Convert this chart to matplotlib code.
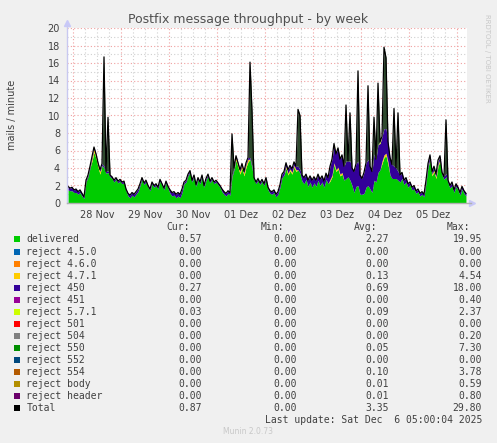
import numpy as np
import matplotlib
matplotlib.use('Agg')
import matplotlib.pyplot as plt
from matplotlib.patches import Rectangle

# hourly samples, first one starts Nov 27 21:00, last one ends Dec 6 05:00
delivered = [
    1.5, 1.4, 1.4, 1.2, 1.2, 1.0, 1.2, 0.8, 0.5, 2.4,
    3.0, 4.0, 4.8, 5.8, 5.1, 4.1, 3.3, 4.3, 4.0, 3.4,
    3.5, 3.0, 2.8, 2.4, 2.7, 2.3, 2.5, 2.2, 2.3, 1.4,
    0.8, 0.6, 0.9, 0.7, 1.0, 1.3, 2.0, 2.7, 2.1, 2.4,
    1.8, 1.4, 2.2, 1.8, 2.0, 1.6, 2.5, 2.0, 1.5, 2.3,
    1.7, 1.1, 0.8, 0.9, 0.6, 0.8, 0.6, 1.2, 2.2, 2.4,
    3.1, 3.5, 2.4, 3.0, 1.9, 2.7, 2.2, 3.0, 1.8, 2.6,
    3.1, 2.3, 2.7, 2.2, 2.4, 2.1, 1.8, 1.3, 1.0, 0.8,
    1.1, 0.9, 3.0, 3.8, 4.9, 4.1, 3.3, 4.0, 3.1, 4.1,
    4.7, 5.0, 4.0, 2.7, 2.2, 2.6, 2.1, 2.5, 2.0, 2.7,
    1.5, 1.1, 1.0, 1.2, 0.7, 1.0, 1.8, 2.9, 3.2, 4.0,
    3.2, 3.7, 3.3, 4.1, 3.6, 3.8, 3.4, 2.5, 2.2, 2.7,
    1.9, 2.4, 1.8, 2.3, 1.9, 2.6, 2.0, 2.4, 1.8, 2.7,
    2.2, 2.5, 3.0, 4.4, 3.6, 3.9, 3.1, 3.3, 2.6, 2.8,
    3.0, 2.6, 2.0, 1.2, 1.9, 2.0, 1.0, 1.0, 1.1, 1.8,
    2.0, 1.6, 1.2, 2.6, 2.4, 3.5, 3.8, 4.5, 5.2, 5.4,
    4.4, 3.2, 2.8, 2.8, 2.8, 2.6, 2.4, 2.8, 2.1, 2.4,
    1.8, 2.1, 1.5, 1.6, 1.1, 1.3, 0.8, 1.0, 0.7, 2.3,
    4.1, 4.9, 3.1, 3.6, 2.8, 4.2, 4.8, 3.2, 2.7, 3.0,
    2.3, 1.7, 2.0, 1.2, 1.9, 1.5, 0.9, 1.6, 1.1, 0.8,
]

reject_471 = [
    0, 0, 0, 0, 0, 0, 0, 0, 0, 0,
    0, 0, 0.3, 0.4, 0.3, 0.3, 0.3, 0, 0, 0,
    0, 0, 0, 0, 0, 0, 0, 0, 0, 0,
    0, 0, 0, 0, 0, 0, 0, 0, 0, 0,
    0, 0, 0, 0, 0, 0, 0, 0, 0, 0,
    0, 0, 0, 0, 0, 0, 0, 0, 0, 0,
    0, 0, 0, 0, 0, 0, 0, 0, 0, 0,
    0, 0, 0, 0, 0, 0, 0, 0, 0, 0,
    0, 0, 0, 0, 0.3, 0.3, 0.3, 0.3, 0.3, 0.3,
    0.3, 0, 0, 0, 0, 0, 0, 0, 0, 0,
    0, 0, 0, 0, 0, 0, 0, 0, 0, 0.2,
    0.2, 0.2, 0.2, 0.2, 0.2, 0, 0, 0, 0, 0,
    0, 0, 0, 0, 0, 0, 0, 0, 0, 0,
    0, 0.2, 0.2, 0.2, 0.2, 0.2, 0.2, 0.2, 0, 0,
    0, 0, 0, 0, 0, 0, 0, 0, 0, 0,
    0, 0, 0, 0, 0, 0, 0, 0.3, 0.3, 0.3,
    0.3, 0, 0, 0, 0, 0, 0, 0, 0, 0,
    0, 0, 0, 0, 0, 0, 0, 0, 0, 0,
    0, 0.2, 0.2, 0.2, 0.2, 0.2, 0.2, 0, 0, 0,
    0, 0, 0, 0, 0, 0, 0, 0, 0, 0,
]

reject_450 = [
    0.4, 0.3, 0.4, 0.3, 0.4, 0.3, 0.3, 0.3, 0.2, 0.2,
    0.2, 0.2, 0.2, 0.2, 0.2, 0.2, 0.2, 0.2, 0.2, 0.2,
    0.2, 0.2, 0.2, 0.2, 0.2, 0.2, 0.2, 0.2, 0.2, 0.2,
    0.3, 0.3, 0.3, 0.3, 0.3, 0.3, 0.2, 0.2, 0.2, 0.2,
    0.2, 0.2, 0.2, 0.2, 0.2, 0.2, 0.2, 0.2, 0.2, 0.2,
    0.2, 0.4, 0.4, 0.4, 0.4, 0.4, 0.4, 0.4, 0.2, 0.2,
    0.2, 0.2, 0.2, 0.2, 0.2, 0.2, 0.2, 0.2, 0.2, 0.2,
    0.2, 0.2, 0.2, 0.2, 0.2, 0.2, 0.2, 0.3, 0.3, 0.3,
    0.3, 0.3, 0.2, 0.2, 0.2, 0.2, 0.2, 0.2, 0.2, 0.2,
    0.2, 0.2, 0.2, 0.2, 0.2, 0.2, 0.2, 0.2, 0.2, 0.2,
    0.3, 0.3, 0.3, 0.3, 0.3, 0.3, 0.3, 0.4, 0.4, 0.4,
    0.4, 0.4, 0.4, 0.4, 0.4, 0.4, 0.4, 0.7, 0.7, 0.6,
    0.7, 0.7, 0.8, 0.7, 0.7, 0.7, 0.7, 0.7, 0.7, 0.7,
    0.7, 1.5, 1.8, 2.0, 1.8, 2.2, 1.7, 2.0, 1.6, 2.0,
    1.8, 2.2, 2.0, 2.4, 2.6, 2.8, 2.2, 1.8, 2.4, 2.8,
    3.0, 2.6, 2.4, 3.0, 2.6, 3.2, 3.0, 2.8, 3.0, 2.8,
    2.3, 2.0, 1.6, 1.4, 1.2, 1.0, 0.8, 0.7, 0.5, 0.5,
    0.4, 0.3, 0.3, 0.4, 0.3, 0.3, 0.3, 0.3, 0.3, 0.3,
    0.4, 0.4, 0.3, 0.4, 0.3, 0.4, 0.4, 0.3, 0.3, 0.4,
    0.3, 0.3, 0.4, 0.3, 0.3, 0.3, 0.3, 0.3, 0.3, 0.3,
]

reject_571 = [0] * 133 + [0.2] + [0] * 22 + [0.2] + [0] * 28 + [0.1] + [0] * 14

reject_550 = [
    0, 0, 0, 0, 0, 0, 0, 0, 0, 0,
    0, 0, 0, 0, 0, 0, 0, 0, 12.5, 0,
    6.1, 0, 0, 0, 0, 0, 0, 0, 0, 0,
    0, 0, 0, 0, 0, 0, 0, 0, 0, 0,
    0, 0, 0, 0, 0, 0, 0, 0, 0, 0,
    0, 0, 0, 0, 0, 0, 0, 0, 0, 0,
    0, 0, 0, 0, 0, 0, 0, 0, 0, 0,
    0, 0, 0, 0, 0, 0, 0, 0, 0, 0,
    0, 0, 4.7, 0, 0, 0, 0, 0, 0, 0,
    0, 10.9, 6.3, 0, 0, 0, 0, 0, 0, 0,
    0, 0, 0, 0, 0, 0, 0, 0, 0, 0,
    0, 0, 0, 0, 0, 6.5, 6.2, 0, 0, 0,
    0, 0, 0, 0, 0, 0, 0, 0, 0, 0,
    0, 0, 0, 0, 0, 0, 0, 0, 0, 6.4,
    0, 5.5, 0, 0, 0, 10.3, 0, 0, 0, 0,
    8.4, 0, 0, 4.2, 0, 7.0, 0, 0, 9.3, 8.1,
    0, 0, 0, 6.6, 0, 6.7, 0, 0, 0, 0,
    0, 0, 0, 0, 0, 0, 0, 0, 0, 0,
    0, 0, 0, 0, 0, 0, 0, 0, 0, 6.1,
    0, 0, 0, 0, 0, 0, 0, 0, 0, 0,
]

day_labels = ['28 Nov', '29 Nov', '30 Nov', '01 Dez', '02 Dez', '03 Dez', '04 Dez', '05 Dez']

legend_names = ['delivered', 'reject 4.5.0', 'reject 4.6.0', 'reject 4.7.1', 'reject 450',
                'reject 451', 'reject 5.7.1', 'reject 501', 'reject 504', 'reject 550',
                'reject 552', 'reject 554', 'reject body', 'reject header', 'Total']
legend_colors = ['#00CC00', '#0066B3', '#FF8000', '#FFCC00', '#330099',
                 '#990099', '#CCFF00', '#FF0000', '#808080', '#008F00',
                 '#00487D', '#B35A00', '#B38F00', '#6B006B', '#000000']
cur_vals = ['0.57', '0.00', '0.00', '0.00', '0.27', '0.00', '0.03', '0.00', '0.00', '0.00',
            '0.00', '0.00', '0.00', '0.00', '0.87']
min_vals = ['0.00'] * 15
avg_vals = ['2.27', '0.00', '0.00', '0.13', '0.69', '0.00', '0.09', '0.00', '0.00', '0.05',
            '0.00', '0.10', '0.01', '0.01', '3.35']
max_vals = ['19.95', '0.00', '0.00', '4.54', '18.00', '0.40', '2.37', '0.00', '0.20', '7.30',
            '0.00', '3.78', '0.59', '0.80', '29.80']

W, H = 497, 443
txt = '#404040'
fig = plt.figure(figsize=(W / 100, H / 100), dpi=100, facecolor='#F0F0F0')
ax = fig.add_axes([67 / W, (H - 203) / H, 400 / W, 175 / H])
ax.set_facecolor('white')

# x in days since Nov 28 00:00, one point per hour (sample centres)
xs = (np.arange(200) - 2.5) / 24.0

# grid below the data
for h in range(0, 198, 6):
    d = h / 24.0
    if h % 24 == 0:
        ax.axvline(d, color='#F0A0A0', lw=0.8, ls=(0, (1, 2)), zorder=0.5)
    else:
        ax.axvline(d, color='#D0D0D0', lw=0.8, ls=(0, (1, 2)), zorder=0.4)
for v in range(1, 21):
    if v % 2 == 0:
        ax.axhline(v, color='#F0A0A0', lw=0.8, ls=(0, (1, 2)), zorder=0.5)
    else:
        ax.axhline(v, color='#D0D0D0', lw=0.8, ls=(0, (1, 2)), zorder=0.4)

layers = [(delivered, '#00CC00'), (reject_471, '#FFCC00'), (reject_450, '#330099'),
          (reject_571, '#CCFF00'), (reject_550, '#2E4A2E')]
base = np.zeros(200)
for vals, col in layers:
    top = base + np.array(vals, dtype=float)
    ax.fill_between(xs, base, top, color=col, lw=0, zorder=2)
    base = top
total = base
ax.plot(xs, total, color='black', lw=0.9, zorder=3)

ax.set_xlim(-3 / 24, 197 / 24)
ax.set_ylim(0, 20)
for s in ax.spines.values():
    s.set_visible(False)
ax.plot([-3 / 24, -3 / 24], [0, 20.4], color='#C8C8F0', lw=1, clip_on=False, zorder=4)
ax.plot([-3 / 24, 199 / 24], [0, 0], color='#B0B0B0', lw=1, clip_on=False, zorder=4)
ax.plot([-3 / 24], [20.6], marker='^', color='#C8C8F8', ms=4, clip_on=False)
ax.plot([199.5 / 24], [0], marker='>', color='#C8C8F8', ms=4, clip_on=False)

ax.set_yticks(range(0, 21, 2))
ax.set_yticklabels([str(v) for v in range(0, 21, 2)])
ax.set_xticks([d + 0.5 for d in range(8)])
ax.set_xticklabels(day_labels)
ax.tick_params(length=0, labelsize=7, colors=txt, pad=5)

fig.text(248 / W, 1 - 19 / H, 'Postfix message throughput - by week', ha='center', va='center',
         fontsize=9, color='#505050')
fig.text(12 / W, 1 - 115 / H, 'mails / minute', rotation=90, ha='center', va='center',
         fontsize=7, color=txt)
fig.text(487 / W, 1 - 58 / H, 'RRDTOOL / TOBI OETIKER', rotation=270, ha='center', va='center',
         fontsize=5, color='#C8C8C8')

mono = dict(family='DejaVu Sans Mono', fontsize=7, color=txt, va='center')
y0 = 227
fig.text(190 / W, 1 - y0 / H, 'Cur:', ha='right', **mono)
fig.text(284 / W, 1 - y0 / H, 'Min:', ha='right', **mono)
fig.text(377 / W, 1 - y0 / H, 'Avg:', ha='right', **mono)
fig.text(470 / W, 1 - y0 / H, 'Max:', ha='right', **mono)
for k, name in enumerate(legend_names):
    yy = 239.5 + 12.03 * k
    fig.patches.append(Rectangle((14 / W, 1 - (yy + 3) / H), 6 / W, 6 / H,
                                 transform=fig.transFigure, color=legend_colors[k], lw=0))
    fig.text(26.5 / W, 1 - yy / H, name, ha='left', **mono)
    fig.text(202 / W, 1 - yy / H, cur_vals[k], ha='right', **mono)
    fig.text(296.5 / W, 1 - yy / H, min_vals[k], ha='right', **mono)
    fig.text(389 / W, 1 - yy / H, avg_vals[k], ha='right', **mono)
    fig.text(482 / W, 1 - yy / H, max_vals[k], ha='right', **mono)
fig.text(482 / W, 1 - 420 / H, 'Last update: Sat Dec  6 05:00:04 2025', ha='right', **mono)
fig.text(248 / W, 1 - 432 / H, 'Munin 2.0.73', ha='center', va='center', fontsize=5.5,
         color='#C8C8C8')

fig.savefig('out.png', dpi=100, facecolor=fig.get_facecolor())
